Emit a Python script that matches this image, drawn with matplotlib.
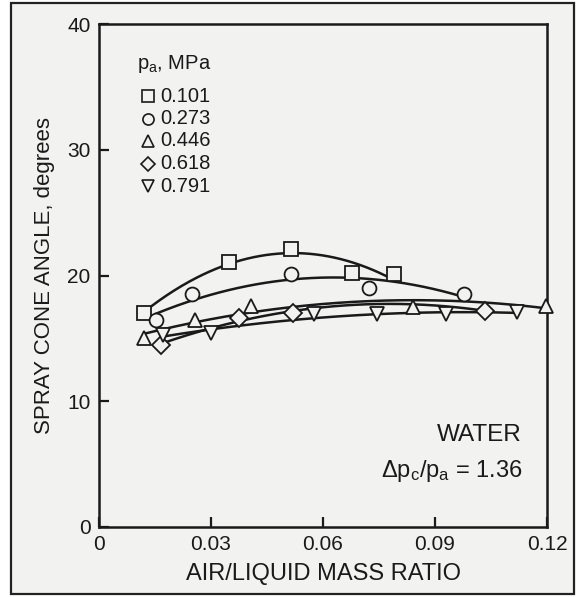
import numpy as np
import matplotlib
matplotlib.use("Agg")
import matplotlib.pyplot as plt
from matplotlib.patches import Rectangle

plt.rcParams['font.family'] = ['Liberation Sans', 'DejaVu Sans']
plt.rcParams['mathtext.fontset'] = 'custom'
plt.rcParams['mathtext.rm'] = 'Liberation Sans'
plt.rcParams['mathtext.it'] = 'Liberation Sans'

# Ambient pressure series (MPa) and their markers
pressures = ["0.101", "0.273", "0.446", "0.618", "0.791"]
markers = ["s", "o", "^", "D", "v"]
marker_sizes = [10, 10, 10, 9, 10]

# Air/liquid mass ratio and spray cone angle (degrees) per series
x_0101 = [0.0121, 0.0347, 0.0514, 0.0677, 0.0790]
y_0101 = [17.0, 21.1, 22.1, 20.2, 20.1]

x_0273 = [0.0152, 0.0248, 0.0513, 0.0722, 0.0977]
y_0273 = [16.5, 18.5, 20.1, 19.0, 18.55]

x_0446 = [0.0121, 0.0258, 0.0407, 0.0840, 0.1196]
y_0446 = [15.0, 16.5, 17.55, 17.5, 17.6]

x_0618 = [0.0166, 0.0376, 0.0519, 0.1035]
y_0618 = [14.5, 16.6, 17.0, 17.2]

x_0791 = [0.0172, 0.0300, 0.0577, 0.0744, 0.0929, 0.1120]
y_0791 = [15.3, 15.4, 16.9, 16.9, 16.9, 17.1]

series_x = [x_0101, x_0273, x_0446, x_0618, x_0791]
series_y = [y_0101, y_0273, y_0446, y_0618, y_0791]

x_ticks = [0, 0.03, 0.06, 0.09, 0.12]
x_tick_labels = ["0", "0.03", "0.06", "0.09", "0.12"]
y_ticks = [0, 10, 20, 30, 40]

bg = "#f2f2f0"
ink = "#1a1a1a"

fig = plt.figure(figsize=(5.76, 5.97), dpi=100, facecolor="white")
frame = Rectangle((11 / 576, 3 / 597), 563 / 576, 591 / 597,
                  transform=fig.transFigure, facecolor=bg,
                  edgecolor="#222222", linewidth=1.6)
frame.set_zorder(-10)
fig.patches.append(frame)

ax = fig.add_axes([99 / 576, 1 - 527 / 597, 448 / 576, 503 / 597])
ax.set_facecolor(bg)

for xs, ys, m, ms in zip(series_x, series_y, markers, marker_sizes):
    xs = np.asarray(xs)
    ys = np.asarray(ys)
    coef = np.polyfit(xs, ys, 2)
    xx = np.linspace(xs.min(), xs.max(), 200)
    ax.plot(xx, np.polyval(coef, xx), color=ink, lw=1.8, zorder=2)
    ax.plot(xs, ys, linestyle="none", marker=m, markersize=ms,
            markerfacecolor=bg, markeredgecolor=ink, markeredgewidth=1.3,
            zorder=3, clip_on=False)

ax.set_xlim(0, 0.12)
ax.set_ylim(0, 40)
ax.set_xticks(x_ticks)
ax.set_xticklabels(x_tick_labels)
ax.set_yticks(y_ticks)
ax.tick_params(direction="in", length=7, width=1.6, colors=ink,
               labelsize=15, top=False, right=False)
ax.tick_params(axis="x", pad=6)
ax.tick_params(axis="y", pad=6)
for s in ax.spines.values():
    s.set_linewidth(1.8)
    s.set_color(ink)

ax.set_xlabel("AIR/LIQUID MASS RATIO", fontsize=17, color=ink, labelpad=6)
ax.set_ylabel("SPRAY CONE ANGLE, degrees", fontsize=16, color=ink, labelpad=9)

# Legend block placed in axes fractions
def fx(px):
    return (px - 99) / 448

def fy(py):
    return (527 - py) / 503

ax.text(fx(137), fy(64), r"p$_\mathregular{a}$, MPa", fontsize=14.5, color=ink,
        transform=ax.transAxes, va="center", ha="left")
row_y = [96, 118.5, 141, 163.5, 186]
for ry, lab, m in zip(row_y, pressures, markers):
    ax.plot([fx(148)], [fy(ry)], marker=m, markersize=8 if m != "D" else 7.5,
            markerfacecolor=bg, markeredgecolor=ink, markeredgewidth=1.2,
            transform=ax.transAxes, clip_on=False)
    ax.text(fx(160), fy(ry), lab, fontsize=14.5, color=ink,
            transform=ax.transAxes, va="center", ha="left")

ax.text(fx(522), fy(435), "WATER", fontsize=17.5, color=ink,
        transform=ax.transAxes, va="center", ha="right")
ax.text(fx(523), fy(471), r"Δp$_\mathregular{c}$/p$_\mathregular{a}$ = 1.36",
        fontsize=17, color=ink, transform=ax.transAxes, va="center", ha="right")

fig.savefig("out.png", dpi=100, facecolor="white")
